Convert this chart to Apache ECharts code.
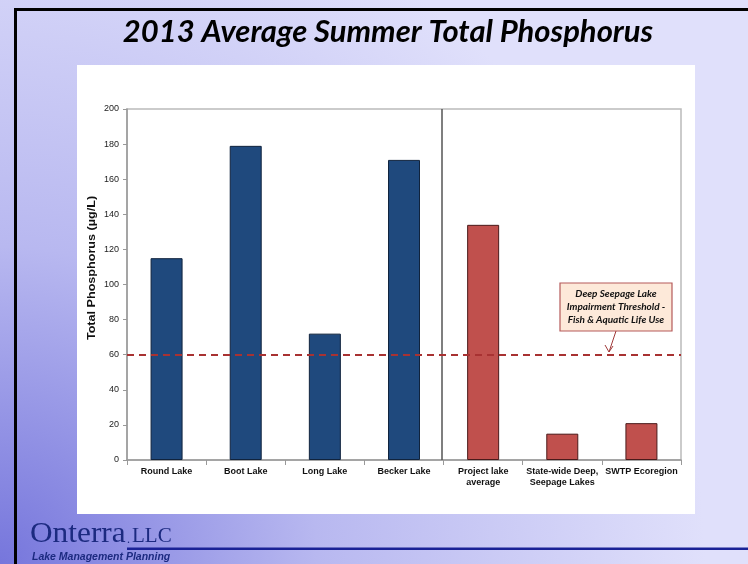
<!DOCTYPE html>
<html>
<head>
    <meta charset="utf-8">
    <title>Summer Total Phosphorus</title>
    <script src="https://cdn.jsdelivr.net/npm/echarts@6/dist/echarts.min.js"></script>
    <style>
        html, body { margin: 0; padding: 0; }
    </style>
</head>
<body>
    <div id="main" style="width: 748px;height:564px;"></div>
    <script type="text/javascript">

    var categories = ['Round Lake', 'Boot Lake', 'Long Lake', 'Becker Lake',
        'Project lake\naverage', 'State-wide Deep,\nSeepage Lakes', 'SWTP Ecoregion'];
    var lakeValues = [115, 179, 72, 171];
    var refValues = [134, 15, 21];
    var threshold = 60;
    var yTicks = [0, 20, 40, 60, 80, 100, 120, 140, 160, 180, 200];

    var blueData = [], redData = [];
    for (var i = 0; i < categories.length; i++) {
        blueData.push(i < lakeValues.length ? lakeValues[i] : '-');
        redData.push(i >= lakeValues.length ? refValues[i - lakeValues.length] : '-');
    }

    var myChart = echarts.init(document.getElementById('main'));

    var option = {
        animation: false,
        backgroundColor: {
            type: 'radial', x: 0, y: 1, r: 1.25,
            colorStops: [
                { offset: 0, color: '#7676dc' },
                { offset: 0.45, color: '#b8b8f0' },
                { offset: 1, color: '#e0e0fb' }
            ]
        },
        graphic: [
            // slide frame
            { type: 'rect', shape: { x: 14, y: 8, width: 3, height: 560 }, style: { fill: '#000' }, z: 10 },
            { type: 'rect', shape: { x: 14, y: 8, width: 740, height: 3 }, style: { fill: '#000' }, z: 10 },
            // white chart panel
            { type: 'rect', shape: { x: 77, y: 65, width: 618, height: 449 }, style: { fill: '#fff' }, z: -10 },
            { type: 'text', x: 388, y: 32, z: 10,
              style: { text: '2013 Average Summer Total Phosphorus', fill: '#000',
                       align: 'center', verticalAlign: 'middle',
                       font: 'italic bold 31px Lato, sans-serif' } },
            // y axis title (stretched like the source)
            { type: 'text', x: 92, y: 268, rotation: Math.PI / 2, scaleX: 1.2, z: 10,
              style: { text: 'Total Phosphorus (\u00b5g/L)', fill: '#111',
                       align: 'center', verticalAlign: 'middle',
                       font: 'bold 10.5px "Liberation Sans", sans-serif' } },
            // separator between lakes and references
            { type: 'line', shape: { x1: 442, y1: 109, x2: 442, y2: 460 },
              style: { stroke: '#555', lineWidth: 1.5 }, z: 5 },
            // annotation
            { type: 'rect', shape: { x: 560, y: 283, width: 112, height: 48 },
              style: { fill: '#fde9d9', stroke: '#b55a5a', lineWidth: 1.2 }, z: 20 },
            { type: 'text', x: 616, y: 307, z: 21,
              style: { text: 'Deep Seepage Lake\nImpairment Threshold -\nFish & Aquatic Life Use',
                       align: 'center', verticalAlign: 'middle', lineHeight: 13,
                       font: 'italic bold 10px Lato, sans-serif', fill: '#111' } },
            { type: 'line', shape: { x1: 616, y1: 331, x2: 609, y2: 352 },
              style: { stroke: '#a03a3a', lineWidth: 1 }, z: 21 },
            { type: 'polyline', shape: { points: [[605, 345], [609, 352], [613, 346]] },
              style: { stroke: '#a03a3a', lineWidth: 1, fill: null }, z: 21 },
            // footer
            { type: 'text', x: 30, y: 549, scaleX: 1.08, z: 10,
              style: { text: 'Onterra', verticalAlign: 'bottom', font: '29px "Liberation Serif", serif', fill: '#1c2a80' } },
            { type: 'text', x: 127, y: 546, z: 10,
              style: { text: '.', verticalAlign: 'bottom', font: '12px "Liberation Serif", serif', fill: '#1c2a80' } },
            { type: 'text', x: 132, y: 547, z: 10,
              style: { text: 'LLC', verticalAlign: 'bottom', font: '21px "Liberation Serif", serif', fill: '#1c2a80' } },
            { type: 'text', x: 32, y: 552, z: 10,
              style: { text: 'Lake Management Planning', font: 'italic bold 10.5px "Liberation Sans", sans-serif', fill: '#1c2a80' } },
            { type: 'rect', shape: { x: 127, y: 547.5, width: 625, height: 2.5 }, style: { fill: '#1a2296' }, z: 10 }
        ],
        grid: {
            left: 127, right: 67, top: 109, bottom: 104,
            show: true, borderColor: '#bbb', borderWidth: 1.5, backgroundColor: '#fff'
        },
        xAxis: {
            type: 'category',
            data: categories,
            axisLine: { lineStyle: { color: '#999', width: 1.5 } },
            axisTick: { show: true, lineStyle: { color: '#999' } },
            axisLabel: { color: '#111', fontSize: 9, fontWeight: 'bold', fontFamily: 'Liberation Sans',
                         interval: 0, margin: 6, lineHeight: 11 }
        },
        yAxis: {
            type: 'value',
            min: 0, max: 200, interval: 20,
            axisLine: { show: true, lineStyle: { color: '#999', width: 1.5 } },
            axisTick: { show: true, length: 4, lineStyle: { color: '#999' } },
            splitLine: { show: false },
            axisLabel: { color: '#222', fontSize: 9, fontFamily: 'Liberation Sans', margin: 8,
                         formatter: function (v) { return yTicks.indexOf(v) >= 0 ? v : ''; } }
        },
        series: [
            {
                type: 'bar', stack: 'a', data: blueData, barWidth: 32,
                itemStyle: { color: '#1f497d', borderColor: '#10233d', borderWidth: 1 },
                markLine: {
                    silent: true, symbol: 'none', label: { show: false },
                    lineStyle: { color: '#a83232', type: [7, 5], width: 1.8 },
                    data: [{ yAxis: threshold }]
                }
            },
            {
                type: 'bar', stack: 'a', data: redData, barWidth: 32,
                itemStyle: { color: '#c0504d', borderColor: '#4a1a1a', borderWidth: 1 }
            }
        ]
    };

    myChart.setOption(option);
    </script>
</body>
</html>
